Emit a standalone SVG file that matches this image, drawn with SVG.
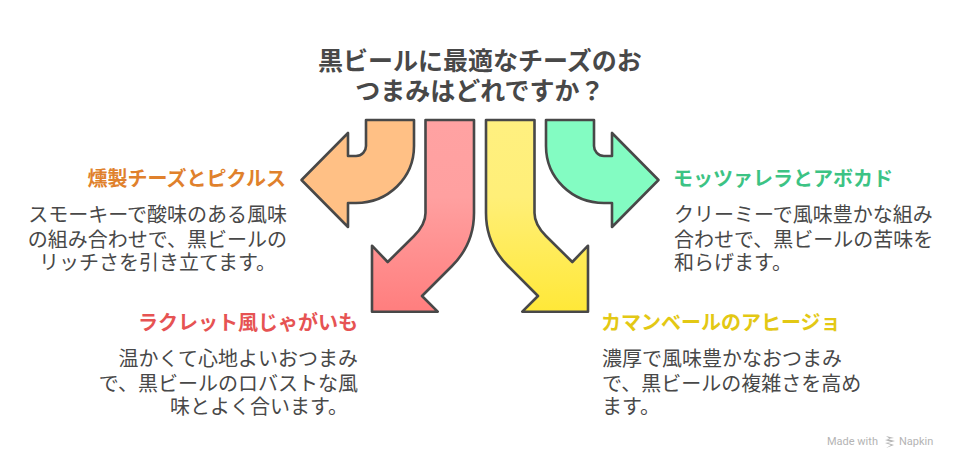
<svg xmlns="http://www.w3.org/2000/svg" width="960" height="468" viewBox="0 0 960 468">
<style>
text{font-family:"Noto Sans CJK JP","Noto Sans",sans-serif}
.t{font-size:25px;font-weight:700;fill:#484848;text-anchor:middle}
.h{font-size:20px;font-weight:700}
.b{font-size:20px;fill:#484848}
.e{text-anchor:end}
.a{stroke:#484848;stroke-width:2.6;stroke-linejoin:round}
</style>
<defs>
<linearGradient id="gr" x1="0" y1="0" x2="0" y2="1"><stop offset="0" stop-color="#ffa2a2"/><stop offset=".4" stop-color="#ffa0a0"/><stop offset="1" stop-color="#ff7e7e"/></linearGradient>
<linearGradient id="gy" x1="0" y1="0" x2="0" y2="1"><stop offset="0" stop-color="#fff080"/><stop offset=".4" stop-color="#ffef78"/><stop offset="1" stop-color="#ffe838"/></linearGradient>
</defs>
<g id="title"><text class="t" x="480" y="70">黒ビールに最適なチーズのお</text><text class="t" x="480" y="100">つまみはどれですか？</text></g>
<g id="connectors">
<path class="a" fill="#ffc085" d="M366 120H414V146C414 178 388 203 356 203H348V227L301.500 180L348 133V156H356C362 156 366 151 366 146Z"/>
<path class="a" fill="url(#gr)" d="M425.500 120H474V213C474 235 466 252 452 266L422 296L437.700 311.700H372V245.700L387.700 262L414 236C421 229 425.500 222 425.500 213Z"/>
<path class="a" fill="url(#gy)" d="M534.500 120H486V213C486 235 494 252 508 266L538 296L522.300 311.700H588V245.700L572.300 262L546 236C539 229 534.500 222 534.500 213Z"/>
<path class="a" fill="#83fcc2" d="M594 120H546V146C546 178 572 203 604 203H612V227L658.500 180L612 133V156H604C598 156 594 151 594 146Z"/>
</g>
<g id="smoked"><text class="h e" x="286" y="186" fill="#e0812c">燻製チーズとピクルス</text>
<text class="b e" x="287" y="222">スモーキーで酸味のある風味</text><text class="b e" x="287" y="247">の組み合わせで、黒ビールの</text><text class="b e" x="276" y="270">リッチさを引き立てます。</text></g>
<g id="mozzarella"><text class="h" x="673" y="186" fill="#3cc384">モッツァレラとアボカド</text>
<text class="b" x="674" y="222">クリーミーで風味豊かな組み</text><text class="b" x="674" y="247">合わせで、黒ビールの苦味を</text><text class="b" x="674" y="270">和らげます。</text></g>
<g id="raclette"><text class="h e" x="358" y="330" fill="#e65353">ラクレット風じゃがいも</text>
<text class="b e" x="358" y="366">温かくて心地よいおつまみ</text><text class="b e" x="358" y="391">で、黒ビールのロバストな風</text><text class="b e" x="348" y="414">味とよく合います。</text></g>
<g id="camembert"><text class="h" x="601" y="330" fill="#e3c814">カマンベールのアヒージョ</text>
<text class="b" x="602" y="366">濃厚で風味豊かなおつまみ</text><text class="b" x="602" y="391">で、黒ビールの複雑さを高め</text><text class="b" x="602" y="414">ます。</text></g>
<g id="watermark"><text x="827" y="445" font-size="11" fill="#b4b4b4" style="font-family:Roboto,sans-serif">Made with</text>
<path d="M886 436l8 2-7 1 8 2-7 2 6 2-8 3 5-3-6-2 6-1-6-2 5-1z" fill="#b4b4b4"/>
<text x="899" y="445" font-size="11" fill="#b4b4b4" style="font-family:Roboto,sans-serif">Napkin</text></g>
</svg>
